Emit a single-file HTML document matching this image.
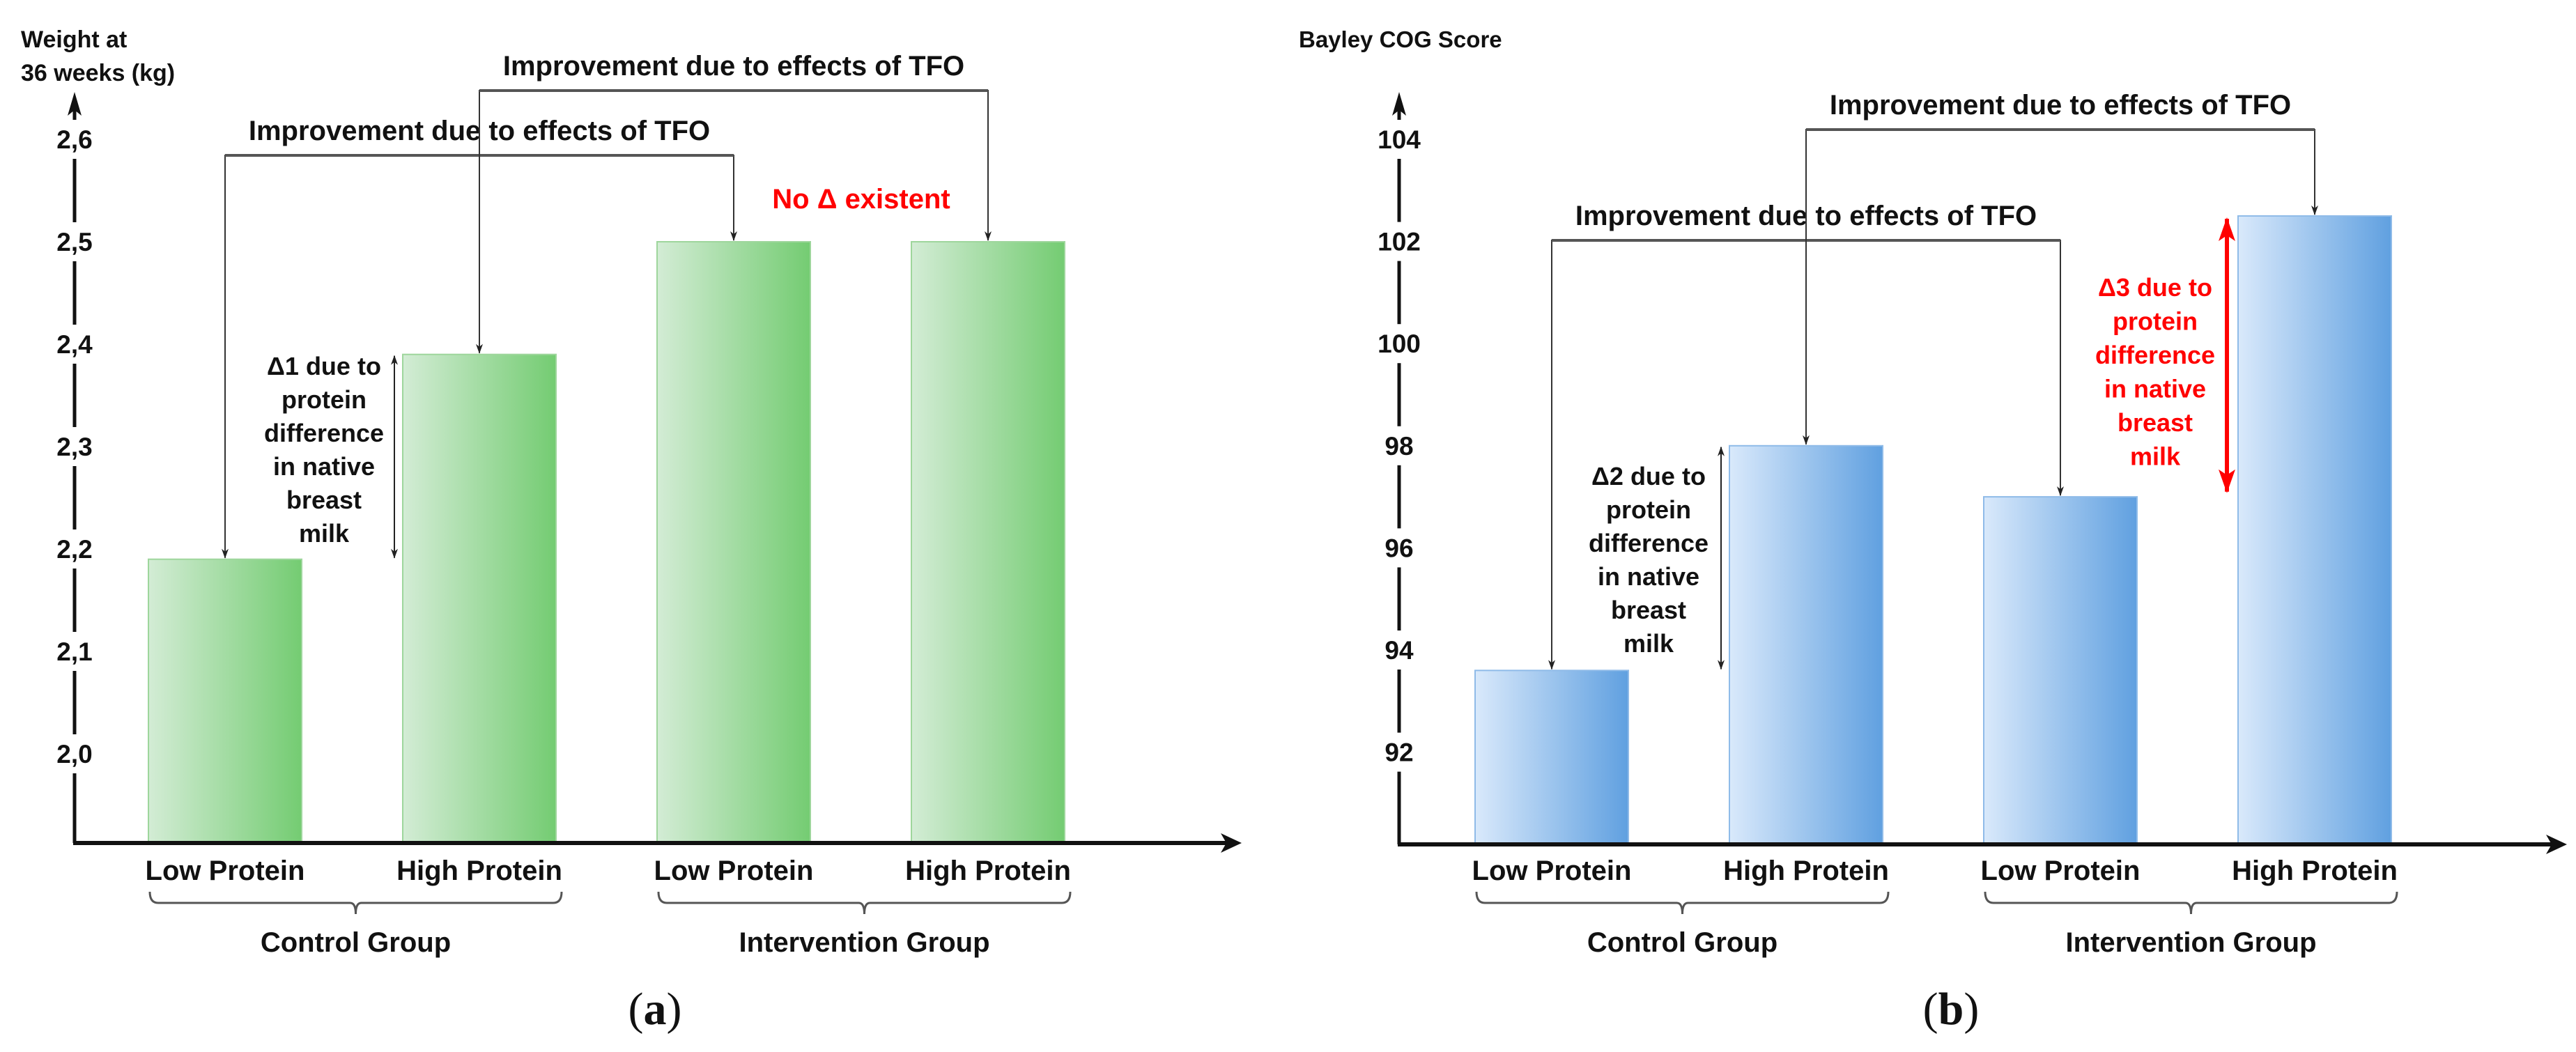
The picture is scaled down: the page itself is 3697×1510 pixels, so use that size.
<!DOCTYPE html>
<html><head><meta charset="utf-8"><style>
html,body{margin:0;padding:0;background:#fff}
svg{display:block}
text{font-family:"Liberation Sans",Arial,sans-serif;font-weight:bold;fill:#111}
</style></head><body>
<svg id="fig" width="3697" height="1510" viewBox="0 0 3697 1510">
<defs>
<linearGradient id="gGreen" x1="0" x2="1" y1="0" y2="0"><stop offset="0" stop-color="#d3ecd5"/><stop offset="1" stop-color="#74cc72"/></linearGradient>
<linearGradient id="gBlue" x1="0" x2="1" y1="0" y2="0"><stop offset="0" stop-color="#d9e9fb"/><stop offset="1" stop-color="#60a0e0"/></linearGradient>
<marker id="ah" markerWidth="14" markerHeight="12" refX="13" refY="6" orient="auto-start-reverse" markerUnits="userSpaceOnUse"><path d="M0,1 L14,6 L0,11 L4,6 Z" fill="#222"/></marker>
<marker id="ahr" markerWidth="34" markerHeight="24" refX="32" refY="12" orient="auto-start-reverse" markerUnits="userSpaceOnUse"><path d="M0,0 L34,12 L0,24 L8,12 Z" fill="#f00"/></marker>
</defs>
</svg>
<script>
// Panel (a) data
const catsA = ["Low Protein","High Protein","Low Protein","High Protein"];
const valsA = [2.19, 2.39, 2.50, 2.50];
const ticksA = [2.0, 2.1, 2.2, 2.3, 2.4, 2.5, 2.6];
const tickLabelsA = ["2,0","2,1","2,2","2,3","2,4","2,5","2,6"];
// Panel (b) data
const catsB = ["Low Protein","High Protein","Low Protein","High Protein"];
const valsB = [93.6, 98.0, 97.0, 102.5];
const ticksB = [92, 94, 96, 98, 100, 102, 104];
const tickLabelsB = ["92","94","96","98","100","102","104"];
const groups = ["Control Group","Intervention Group"];

const NS="http://www.w3.org/2000/svg";
const svg=document.getElementById('fig');
function el(tag,attrs,parent,txt){const e=document.createElementNS(NS,tag);for(const k in attrs)e.setAttribute(k,attrs[k]);if(txt!==undefined)e.textContent=txt;(parent||svg).appendChild(e);return e;}

function panel(o){
  const g=el('g',{});
  
  
  const y=v=>o.y0+(o.v0-v)*o.pxPerUnit;
  const bx=i=>o.x0+i*o.pitch;
  const bw=o.bw;
  const ya=el('line',{x1:o.ax,y1:o.axisY,x2:o.ax,y2:150,stroke:'#111','stroke-width':5},g);
  
  
  el('path',{d:`M${o.ax-10},${166} L${o.ax},${132} L${o.ax+10},${166} L${o.ax},${158} Z`,fill:'#111'},g);
  o.ticks.forEach((t,i)=>{
    el('rect',{x:o.ax-40,y:y(t)-28,width:80,height:56,fill:'#fff'},g);
    const tl=el('text',{x:o.ax,y:y(t)+13,'text-anchor':'middle','font-size':37},g,o.tickLabels[i]);
    
    
  });
  o.vals.forEach((v,i)=>{
    const r=el('rect',{x:bx(i),y:y(v),width:bw,height:o.axisY-y(v),fill:o.fill,stroke:o.stroke,'stroke-width':2},g);
    
    
    const c=el('text',{x:bx(i)+bw/2,y:1263,'text-anchor':'middle','font-size':40},g,o.cats[i]);
    
    
  });
  const xa=el('line',{x1:o.ax-2,y1:o.axisY,x2:o.xEnd-20,y2:o.axisY,stroke:'#111','stroke-width':6},g);
  
  
  el('path',{d:`M${o.xEnd-30},${o.axisY-14} L${o.xEnd},${o.axisY} L${o.xEnd-30},${o.axisY+14} L${o.xEnd-22},${o.axisY} Z`,fill:'#111'},g);
  [0,1].forEach(k=>{
    const l=bx(2*k)+2, r=bx(2*k+1)+bw+8, m=(l+r)/2;
    const br=el('path',{d:`M${l},1280 Q${l},1296 ${l+12},1296 L${m-8},1296 Q${m},1296 ${m},1312 Q${m},1296 ${m+8},1296 L${r-12},1296 Q${r},1296 ${r},1280`,fill:'none',stroke:'#555','stroke-width':3},g);
    
    
    const gl=el('text',{x:m,y:1366,'text-anchor':'middle','font-size':40},g,groups[k]);
    
    
  });
  const pl=el('text',{x:o.panelX,y:1470,'text-anchor':'middle','font-size':66,style:'font-family:"Liberation Serif",serif;font-weight:normal'},g);
  pl.innerHTML='(<tspan font-weight="bold">'+o.panelLetter+'</tspan>)';
  
  
  o.title.forEach((t,i)=>{const tt=el('text',{x:o.titleX,y:68+i*48,'font-size':o.titleSize},g,t);
    
    });
  o.brackets.forEach(b=>{
    const xl=bx(b[0])+bw/2, xr=bx(b[1])+bw/2;
    const p=el('path',{d:`M${xl},${y(o.vals[b[0]])-2} L${xl},${b[2]} L${xr},${b[2]} L${xr},${y(o.vals[b[1]])-2}`,fill:'none',stroke:'#333','stroke-width':2,'marker-start':'url(#ah)','marker-end':'url(#ah)'},g);
    
    
    el('line',{x1:xl,y1:b[2],x2:xr,y2:b[2],stroke:'#555','stroke-width':4},g);
    const t=el('text',{x:(xl+xr)/2,y:b[2]-22,'text-anchor':'middle','font-size':40},g,'Improvement due to effects of TFO');
    
    
  });
  const d=o.delta;
  const x1=bx(d.bar)-12;
  const ya2=y(o.vals[d.bar]), yb2=y(o.vals[d.from]);
  const da=el('line',{x1:x1,y1:ya2+2,x2:x1,y2:yb2-2,stroke:'#222','stroke-width':2,'marker-start':'url(#ah)','marker-end':'url(#ah)'},g);
  
  
  d.lines.forEach((ln,i)=>{const t=el('text',{x:d.cx,y:d.top+i*48,'text-anchor':'middle','font-size':36},g,ln);
    
    });
  return {g,y,bx};
}

const A=panel({name:'panel-a-weight-chart',cats:catsA,vals:valsA,ticks:ticksA,tickLabels:tickLabelsA,
  v0:2.6,y0:200,pxPerUnit:1470,axisY:1210,ax:107,x0:213,pitch:365,bw:220,xEnd:1782,
  fill:'url(#gGreen)',stroke:'#9ed69c',title:["Weight at","36 weeks (kg)"],titleSize:34,titleX:30,panelX:940,panelLetter:'a',
  brackets:[[0,2,223],[1,3,130]],
  delta:{bar:1,from:0,cx:465,top:538,lines:["\u03941 due to","protein","difference","in native","breast","milk"]}});
const nd=el('text',{x:1236,y:299,'text-anchor':'middle','font-size':40,style:'fill:#f00'},A.g,'No \u0394 existent');



const B=panel({name:'panel-b-bayley-chart',cats:catsB,vals:valsB,ticks:ticksB,tickLabels:tickLabelsB,
  v0:104,y0:200,pxPerUnit:73.3,axisY:1212,ax:2008,x0:2117,pitch:365,bw:220,xEnd:3684,
  fill:'url(#gBlue)',stroke:'#8fbbe8',title:["Bayley COG Score"],titleSize:33,titleX:1864,panelX:2800,panelLetter:'b',
  brackets:[[0,2,345],[1,3,186]],
  delta:{bar:1,from:0,cx:2366,top:696,lines:["\u03942 due to","protein","difference","in native","breast","milk"]}});
const y3=B.y;
const rx=B.bx(3)-16;
const ra=el('line',{x1:rx,y1:y3(valsB[3])+4,x2:rx,y2:y3(valsB[1])+66,stroke:'#f00','stroke-width':6,'marker-start':'url(#ahr)','marker-end':'url(#ahr)'},B.g);


["\u03943 due to","protein","difference","in native","breast","milk"].forEach((ln,i)=>{
  const t=el('text',{x:3093,y:425+i*48.5,'text-anchor':'middle','font-size':36,style:'fill:#f00'},B.g,ln);
  
  
});
</script>
</body></html>
